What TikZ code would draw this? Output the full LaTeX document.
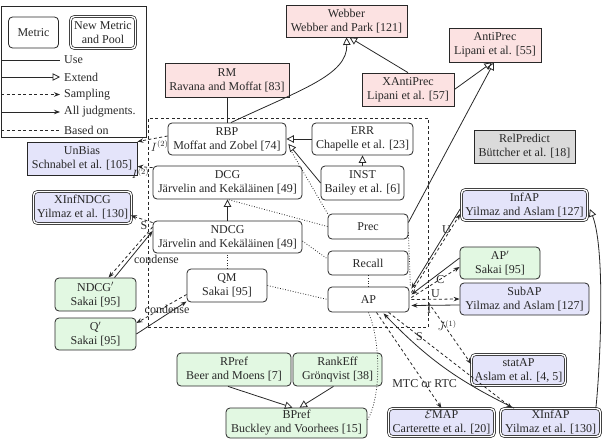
\documentclass[tikz,border=0pt]{standalone}
\usepackage{fontspec}
\setmainfont{Liberation Serif}
\usetikzlibrary{arrows.meta,calc}
\definecolor{pinkF}{RGB}{252,226,226}
\definecolor{lavF}{RGB}{228,228,250}
\definecolor{greenF}{RGB}{226,248,226}
\definecolor{grayF}{RGB}{218,218,218}
\definecolor{ink}{RGB}{40,40,40}
\begin{document}
\begin{tikzpicture}[x=1pt,y=-1pt,font=\fontsize{12}{14}\selectfont,
  every node/.style={text=ink},
  box/.style={draw=ink, line width=0.8pt, align=center, inner sep=0pt},
  mbox/.style={box, rounded corners=4pt, fill=white},
  pbox/.style={box, fill=pinkF},
  lbox/.style={box, fill=lavF},
  lrbox/.style={box, rounded corners=4pt, fill=lavF},
  gbox/.style={box, rounded corners=4pt, fill=greenF},
  dbl/.style={double=white, double distance=1.4pt, line width=0.7pt},
  sz/.style 2 args={minimum width=#1pt, minimum height=#2pt},
  conn/.style={draw=ink, line width=0.8pt},
  usel/.style={conn},
  ext/.style={conn, -{Triangle[open, length=7.5pt, width=7.5pt]}},
  samp/.style={conn, dash pattern=on 3pt off 2.5pt, -{Stealth[length=6pt, width=4.5pt]}},
  allj/.style={conn, -{Stealth[length=6pt, width=4.5pt]}},
  based/.style={conn, dash pattern=on 0.8pt off 1.8pt},
  legbased/.style={conn, dash pattern=on 3pt off 2.5pt},
  legtxt/.style={anchor=west, inner xsep=4pt, inner ysep=1pt},
  lab/.style={inner sep=1pt}
]
\useasboundingbox (0,0) rectangle (606,439);

% group box
\node[draw=ink, line width=0.8pt, dash pattern=on 3pt off 2.5pt, sz={280}{209}] (grp) at (288,222.5) {};

% legend
\node[draw=ink, line width=0.8pt, sz={145}{131}] (legend) at (73.5,71.5) {};
\node[mbox, sz={50}{31}] (legM) at (33.5,32.5) {Metric};
\node[mbox, dbl, sz={65}{32}] (legN) at (103,32.5) {New Metric\\and Pool};
\coordinate (lu) at (1,60);
\coordinate (le) at (1,77);
\coordinate (ls) at (1,94.5);
\coordinate (la) at (1,112);
\coordinate (lb) at (1,130);
\node[legtxt] (tUse) at (60,60) {Use};
\node[legtxt] (tExt) at (60,77) {Extend};
\node[legtxt] (tSamp) at (60,94.5) {Sampling};
\node[legtxt] (tAll) at (60,112) {All judgments.};
\node[legtxt] (tBased) at (60,130) {Based on};
\draw[usel] (lu) -- (tUse.west);
\draw[ext] (le) -- (tExt.west);
\draw[samp] (ls) -- (tSamp.west);
\draw[allj] (la) -- (tAll.west);
\draw[legbased] (lb) -- (tBased.west);

% nodes
\node[pbox, sz={121}{32}] (Webber) at (346.5,21) {Webber\\Webber and Park [121]};
\node[pbox, sz={124}{34}] (RM) at (227,80) {RM\\Ravana and Moffat [83]};
\node[pbox, sz={92}{34}] (AntiPrec) at (495,45) {AntiPrec\\Lipani et al. [55]};
\node[pbox, sz={92}{33}] (XAntiPrec) at (408,89.5) {XAntiPrec\\Lipani et al. [57]};
\node[box, fill=grayF, sz={101}{33}] (RelPredict) at (524.5,146.5) {RelPredict\\B\"uttcher et al. [18]};
\node[lbox, sz={110}{33}] (UnBias) at (82,158.5) {UnBias\\Schnabel et al. [105]};
\node[lrbox, dbl, sz={98}{32}] (XInfNDCG) at (82.5,207.5) {XInfNDCG\\Yilmaz et al. [130]};

\node[mbox, sz={118}{32}] (RBP) at (227,139) {RBP\\Moffat and Zobel [74]};
\node[mbox, sz={101}{32}] (ERR) at (362.5,139) {ERR\\Chapelle et al. [23]};
\node[mbox, sz={149}{33}] (DCG) at (227.5,182.5) {DCG\\J\"arvelin and Kek\"al\"ainen [49]};
\node[mbox, sz={83}{34}] (INST) at (362.5,183) {INST\\Bailey et al. [6]};
\node[mbox, sz={149}{32}] (NDCG) at (227.5,237) {NDCG\\J\"arvelin and Kek\"al\"ainen [49]};
\node[mbox, sz={80}{25}] (Prec) at (368,226.5) {Prec};
\node[mbox, sz={80}{24}] (Recall) at (368,263) {Recall};
\node[mbox, sz={80}{33}] (QM) at (227,285.5) {QM\\Sakai [95]};
\node[mbox, sz={81}{25}] (AP) at (368.5,299.5) {AP};

\node[lrbox, dbl, sz={126}{31}] (InfAP) at (524.5,205) {InfAP\\Yilmaz and Aslam [127]};
\node[gbox, sz={80}{32}] (APp) at (500,263) {AP$'$\\Sakai [95]};
\node[lrbox, sz={129}{32}] (SubAP) at (524.5,299) {SubAP\\Yilmaz and Aslam [127]};
\node[gbox, sz={81}{33}] (NDCGp) at (95.5,294.5) {NDCG$'$\\Sakai [95]};
\node[gbox, sz={81}{32}] (Qp) at (95.5,334) {Q$'$\\Sakai [95]};
\node[gbox, sz={114}{33}] (RPref) at (234,369.5) {RPref\\Beer and Moens [7]};
\node[gbox, sz={89}{33}] (RankEff) at (337.5,369.5) {RankEff\\Gr\"onqvist [38]};
\node[gbox, sz={141}{30}] (BPref) at (296.5,423) {BPref\\Buckley and Voorhees [15]};
\node[lrbox, dbl, sz={94}{31}] (statAP) at (518.5,370) {statAP\\Aslam et al. [4, 5]};
\node[lrbox, dbl, sz={106}{28}] (EMAP) at (441.5,422.5) {$\mathcal{E}$MAP\\Carterette et al. [20]};
\node[lrbox, dbl, sz={100}{28}] (XInfAP) at (550.5,422.5) {XInfAP\\Yilmaz et al. [130]};

% connectors
\draw[usel] (RM) -- (RBP);
\draw[ext] ($(RBP.north)+(4,0)$) .. controls (300,90) and (348,75) .. (Webber.south);
\draw[ext] (XAntiPrec.north) -- ($(Webber.south)+(3,0)$);
\draw[ext] (XAntiPrec.east) -- ($(AntiPrec.south)+(-3,0)$);
\draw[ext] ($(Prec.east)+(0,-4)$) -- ($(AntiPrec.south)+(-1,0)$);
\draw[ext] (ERR) -- (RBP);
\draw[ext] (INST) -- (ERR);
\draw[ext] (INST.west) -- ($(RBP.east)+(2,5)$);
\draw[based] (Prec.north west) -- ($(RBP.south east)+(5,-4)$);
\draw[based] (Prec.west) -- (DCG.south);
\draw[ext] (NDCG) -- (DCG);
\draw[based] ($(NDCG.east)+(0,4)$) -- ($(Recall.west)+(0,-4)$);
\draw[based] (QM.north) -- (QM.north |- NDCG.south);
\draw[based] (QM.east) -- (AP.west);
\draw[based] (Recall.south) -- (Recall.south |- AP.north);
\draw[based] ($(Prec.east)+(0,6)$) -- ($(AP.north east)+(1,0)$);

\draw[allj] ($(InfAP.west)+(-1,4)$) -- ($(AP.north east)+(2,2)$);
\draw[samp] ($(AP.east)+(2,-7)$) -- ($(InfAP.west)+(-1,9)$) node[lab, pos=0.8, xshift=-4pt]{U};
\draw[allj] ($(APp.west)+(0,-5)$) -- ($(AP.east)+(2,-5)$);
\draw[samp] ($(AP.east)+(2,-2)$) -- ($(APp.west)+(0,4)$) node[lab, pos=0.6]{C};
\draw[samp] ($(AP.east)+(2,0)$) -- (SubAP.west) node[lab, midway, above]{U};
\draw[allj] ($(SubAP.west)+(0,6)$) -- ($(AP.east)+(2,6)$);

\draw[samp] ($(grp.east)+(0,80)$) -- ($(statAP.west)+(0,-6)$) node[lab, pos=0.12, left, xshift=-1pt]{I} node[lab, pos=0.37, xshift=3pt]{$J^{(1)}$};
\draw[samp] ($(AP.south)+(8,0)$) -- (EMAP.north) node[lab, pos=0.74]{MTC or RTC};
\draw[samp] ($(AP.south)+(20,0)$) -- ($(XInfAP.north west)+(12,0)$) node[lab, pos=0.25]{S};
\draw[allj] ($(XInfAP.north west)+(14,0)$) to[bend left=10] ($(AP.south)+(15,1)$);

\draw[based] (AP.south) .. controls (382,345) and (380,400) .. ($(BPref.east)+(0,-3)$);
\draw[ext] ($(RPref.south)+(-6,0)$) -- ($(BPref.north)+(-4,0)$);
\draw[ext] ($(RankEff.south)+(-4,0)$) -- ($(BPref.north)+(3,0)$);
\draw[ext] ($(XInfAP.north east)+(-5,0)$) .. controls (600,370) and (606,250) .. ($(InfAP.east)+(2,4)$);

\draw[samp] ($(RBP.west)+(0,-3)$) -- (UnBias.north east) node[lab, pos=0.6, below right]{$I^{(2)}$};
\draw[samp] ($(DCG.north west)+(0,2)$) -- ($(UnBias.east)+(0,8)$) node[lab, pos=0.8, below]{$I^{(2)}$};
\draw[samp] ($(NDCG.north west)+(0,2)$) -- ($(XInfNDCG.east)+(-1,8)$) node[lab, pos=0.4, below]{S};
\draw[samp] ($(NDCG.west)+(0,-10)$) -- ($(NDCGp.north)+(13,0)$);
\draw[allj] ($(NDCGp.north)+(19,0)$) -- ($(NDCG.west)+(0,-6)$) node[lab, pos=0.4, right, xshift=3pt]{condense};
\draw[samp] ($(QM.west)+(0,9)$) -- ($(Qp.east)+(0,-11)$);
\draw[allj] (Qp.east) -- ($(QM.west)+(0,16)$) node[lab, pos=0.55, xshift=3pt, yshift=7pt]{condense};
\end{tikzpicture}
\end{document}
